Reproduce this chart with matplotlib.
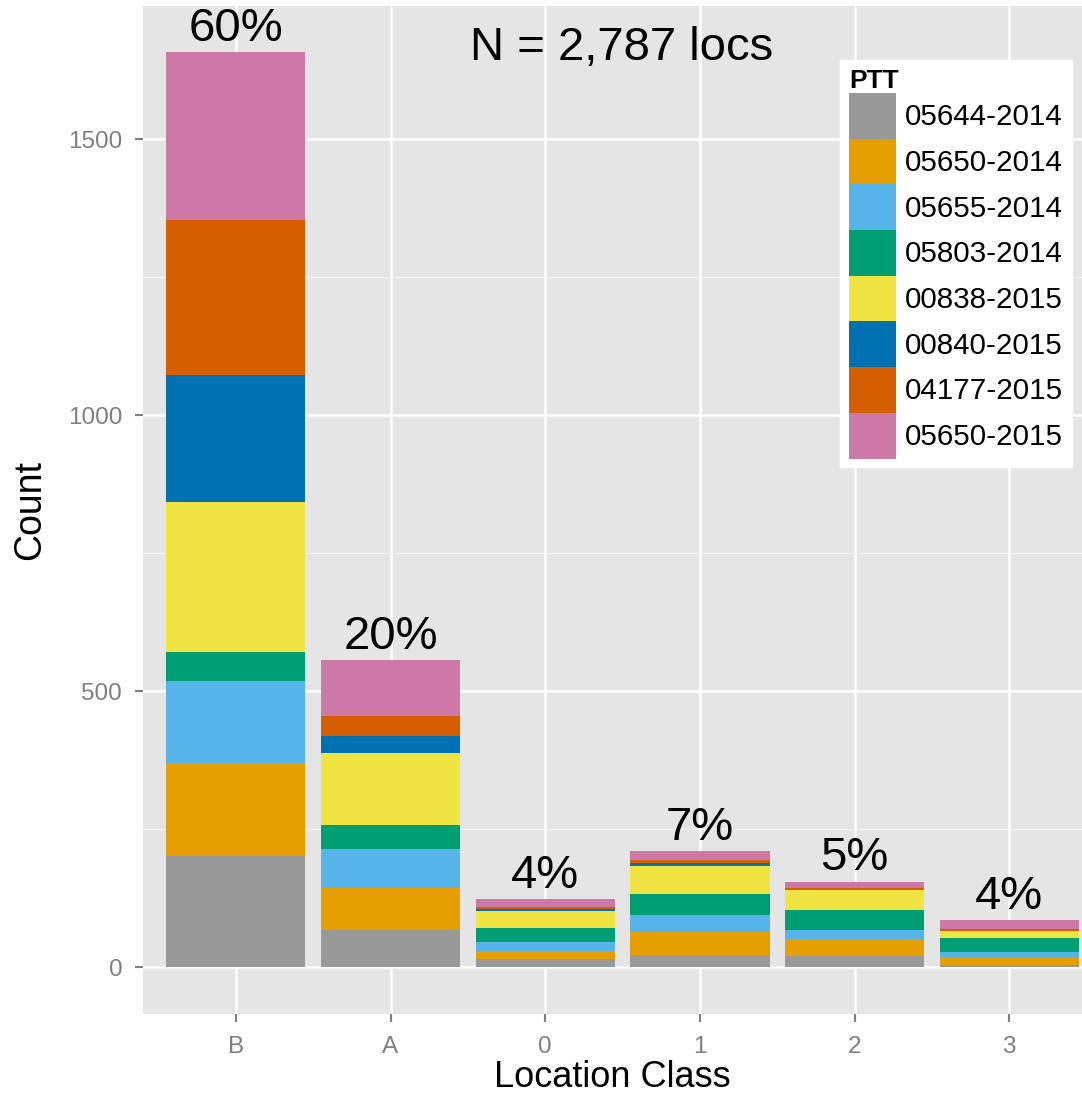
import matplotlib.pyplot as plt
import numpy as np

plt.rcParams['font.family'] = ['Liberation Sans', 'DejaVu Sans']

# Data (counts)
classes = ["B", "A", "0", "1", "2", "3"]
ptt = ["05644-2014", "05650-2014", "05655-2014", "05803-2014",
       "00838-2015", "00840-2015", "04177-2015", "05650-2015"]
colors = ["#999999", "#E69F00", "#56B4E9", "#009E73",
          "#F0E442", "#0072B2", "#D55E00", "#CC79A7"]

c_05644_2014 = [201, 67, 14, 21, 20, 4]
c_05650_2014 = [168, 77, 16, 42, 30, 12]
c_05655_2014 = [150, 70, 16, 31, 18, 12]
c_05803_2014 = [51, 44, 24, 38, 35, 24]
c_00838_2015 = [272, 129, 32, 52, 36, 13]
c_00840_2015 = [230, 32, 4, 4, 0, 0]
c_04177_2015 = [281, 36, 3, 6, 5, 4]
c_05650_2015 = [304, 101, 14, 16, 11, 16]
pct_labels = ["60%", "20%", "4%", "7%", "5%", "4%"]

series = [c_05644_2014, c_05650_2014, c_05655_2014, c_05803_2014,
          c_00838_2015, c_00840_2015, c_04177_2015, c_05650_2015]

fig = plt.figure(figsize=(10.82, 10.96), dpi=100)
ax = fig.add_axes([143 / 1082, 1 - 1014 / 1096, 1 - 143 / 1082, (1014 - 6) / 1096])
ax.set_facecolor("#E5E5E5")

x = np.arange(1, len(classes) + 1)
bottom = np.zeros(len(classes))
for name, vals, col in zip(ptt, series, colors):
    ax.bar(x, vals, width=0.9, bottom=bottom, color=col, label=name,
           edgecolor="none", zorder=3)
    bottom += np.array(vals)

# percentage labels above bars
for xi, tot, lab in zip(x, bottom, pct_labels):
    ax.annotate(lab, (xi, tot), xytext=(0, 1), textcoords="offset points",
                ha="center", va="bottom", fontsize=34, color="black", zorder=4)

ax.text(0.51, 0.958, "N = 2,787 locs", transform=ax.transAxes,
        ha="center", va="center", fontsize=34)

ax.set_xlim(0.4, 6.47)
ax.set_ylim(-85, 1741)
ax.set_xticks(x)
ax.set_xticklabels(classes)
ax.set_yticks([0, 500, 1000, 1500])
ax.set_yticks([250, 750, 1250], minor=True)
ax.grid(True, which="major", color="white", linewidth=1.8, zorder=0)
ax.grid(True, which="minor", axis="y", color="#F2F2F2", linewidth=0.9, zorder=0)
ax.set_axisbelow(True)
for s in ax.spines.values():
    s.set_visible(False)
ax.tick_params(axis="both", which="major", colors="#7F7F7F", labelsize=17.5,
               length=6, width=1.5)
ax.tick_params(axis="x", pad=10)
ax.tick_params(axis="y", pad=9)
ax.tick_params(axis="y", which="minor", length=0)
ax.set_xlabel("Location Class", fontsize=26, labelpad=1)
ax.set_ylabel("Count", fontsize=27, labelpad=14)

leg = ax.legend(title="PTT", loc="upper right", bbox_to_anchor=(1072 / 1082, 1 - 60 / 1096),
                bbox_transform=fig.transFigure, fontsize=21.3, frameon=True,
                fancybox=False, framealpha=1, edgecolor="white",
                handlelength=1.6, handleheight=2.0, handletextpad=0.3,
                labelspacing=0.0, borderpad=0.3, borderaxespad=0, alignment="left")
leg.get_title().set_fontweight("bold")
leg.get_title().set_fontsize(19)

fig.savefig("out.png", dpi=100)
